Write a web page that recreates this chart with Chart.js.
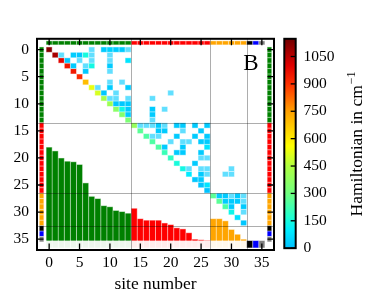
<!DOCTYPE html>
<html lang="en">
<head>
  <meta charset="UTF-8">
  <title>Hamiltonian</title>
  <script src="https://cdn.jsdelivr.net/npm/chart.js"></script>
  <style>
    body { margin: 0; background: #fff; }
    canvas { display: block; }
  </style>
</head>
<body>
  <canvas id="hamChart" width="374" height="301"></canvas>

  <script>
    const siteTicks = [0, 5, 10, 15, 20, 25, 30, 35];
    const energyTicks = [0, 150, 300, 450, 600, 750, 900, 1050];

    // site energies in cm^-1 (diagonal); sites 33-35 have no entry
    const siteEnergy = [1121, 1076, 991, 952, 946, 913, 692, 530, 504, 419, 406, 361, 348, 328,
                        387, 263, 244, 244, 244, 211, 192, 153, 140, 94, 16, 10, 6,
                        263, 263, 237, 133, 75, 16, null, null, null];

    // group of each site, used for the border strips and the bars
    const siteGroup = [0,0,0,0,0,0,0,0,0,0,0,0,0,0,
                       1,1,1,1,1,1,1,1,1,1,1,1,1,
                       2,2,2,2,2,2, 3, 4, 5];
    const groupColors = ['#008000', '#ff0000', '#ffa500', '#000000', '#0000ff', '#808080'];
    const groupEdges = [13.5, 26.5, 32.5];

    // couplings [row, col, value cm^-1]; negative ones are drawn lighter
    const couplings = [
      [0,7,-25],[0,9,25],[0,10,40],[0,11,25],[0,12,25],[0,13,-25],
      [1,2,-25],[1,4,30],[1,5,20],[1,6,150],[1,7,-25],[1,10,-25],
      [2,3,20],[2,5,-25],[2,7,-25],[2,10,-25],[2,13,80],
      [3,4,25],[3,6,-25],[3,7,140],[3,10,25],
      [4,6,20],[4,10,-25],
      [6,10,-25],[6,12,-25],
      [7,8,-25],[7,10,30],[7,13,25],
      [8,9,20],[8,11,-25],[8,20,-25],
      [9,10,-25],[9,11,-25],[9,13,-25],[9,17,-25],
      [10,11,20],[10,12,20],[10,13,25],
      [11,12,140],[11,13,25],[11,17,25],[11,19,-25],
      [12,13,25],[12,17,25],
      [13,17,-25],
      [14,15,-25],[14,16,-25],[14,17,-25],[14,18,25],[14,19,-25],[14,21,25],[14,22,25],[14,24,25],[14,26,25],
      [15,18,25],[15,19,25],[15,22,-25],[15,25,25],
      [16,17,-25],[16,18,-25],[16,21,25],[16,24,25],[16,26,25],
      [17,20,-25],[17,22,-25],[17,23,-25],[17,25,25],[17,26,25],
      [18,19,25],[18,22,25],[18,26,80],
      [19,21,25],[19,22,25],[19,25,25],
      [20,25,-25],[20,26,-25],
      [21,24,25],
      [22,23,-25],[22,25,-25],[22,26,-25],[22,30,-25],
      [23,25,25],[23,26,-25],[23,29,-25],[23,30,-25],
      [24,25,25],
      [25,26,80],
      [27,28,30],[27,29,25],[27,30,-25],[27,31,25],[27,32,-25],
      [28,29,25],[28,30,25],[28,31,25],[28,32,-25],
      [29,30,25],[29,32,25],
      [30,32,-25]
    ];

    // colour map of the colour bar
    const cmapValues = [0, 100, 170, 300, 450, 560, 750, 900, 1000, 1150];
    const cmapColors = ['#00bfff', '#00eeff', '#20ffd0', '#70ff80', '#b0ff40',
                        '#ffff00', '#ffa000', '#ff3000', '#e00000', '#700000'];
    const cbarMin = -10, cbarMax = 1147;

    const barBase = 35.25;   // bars start here (site units)
    const cmPerSite = 65;    // bar height scale

    const tickFont = { family: 'Liberation Serif', size: 15.5 };
    const titleFont = { family: 'Liberation Serif', size: 17.5 };

    function toRgb(hex) {
      const n = parseInt(hex.slice(1), 16);
      return [n >> 16 & 255, n >> 8 & 255, n & 255];
    }
    function rgbStr(c) { return 'rgb(' + c.map(Math.round).join(',') + ')'; }
    function lighten(c, t) { return c.map(v => v + (255 - v) * t); }

    function cmap(v) {
      if (v <= cmapValues[0]) return toRgb(cmapColors[0]);
      for (let i = 1; i < cmapValues.length; i++) {
        if (v <= cmapValues[i]) {
          const t = (v - cmapValues[i - 1]) / (cmapValues[i] - cmapValues[i - 1]);
          const a = toRgb(cmapColors[i - 1]), b = toRgb(cmapColors[i]);
          return a.map((x, k) => x + (b[k] - x) * t);
        }
      }
      return toRgb(cmapColors[cmapColors.length - 1]);
    }

    // one cell with a light edge, pixel box from scale values
    function cell(ctx, x, y, x0, x1, y0, y1, rgb) {
      const l = x.getPixelForValue(x0), r = x.getPixelForValue(x1);
      const t = Math.min(y.getPixelForValue(y0), y.getPixelForValue(y1));
      const b = Math.max(y.getPixelForValue(y0), y.getPixelForValue(y1));
      ctx.fillStyle = rgbStr(lighten(rgb, 0.5));
      ctx.fillRect(l, t, r - l, b - t);
      ctx.fillStyle = rgbStr(rgb);
      ctx.fillRect(l + 0.5, t + 0.5, r - l - 1, b - t - 1);
    }

    const matrixPlugin = {
      id: 'matrix',
      beforeDatasetsDraw(chart) {
        const { ctx, chartArea: a, scales } = chart;
        const x = scales.x, y = scales.y, yb = scales.yb;
        ctx.save();
        ctx.beginPath();
        ctx.rect(a.left, a.top, a.width, a.height);
        ctx.clip();

        // border strips
        siteGroup.forEach((g, i) => {
          const c = toRgb(groupColors[g]);
          cell(ctx, x, y, i - 0.5, i + 0.5, -1.625, -0.875, c);
          cell(ctx, x, y, -1.625, -0.875, i - 0.5, i + 0.5, c);
          cell(ctx, x, y, 35.875, 36.625, i - 0.5, i + 0.5, c);
          const bc = g >= 3 ? c : lighten(c, 0.93);
          cell(ctx, x, y, i - 0.5, i + 0.5, barBase, 36.625, bc);
        });

        // bars of the site energies (lower triangle)
        siteEnergy.forEach((e, i) => {
          if (e === null) return;
          const c = toRgb(groupColors[siteGroup[i]]);
          const l = x.getPixelForValue(i - 0.5), r = x.getPixelForValue(i + 0.5);
          const t = yb.getPixelForValue(e), b = yb.getPixelForValue(0);
          ctx.fillStyle = rgbStr(lighten(c, 0.5));
          ctx.fillRect(l, t, r - l, b - t);
          ctx.fillStyle = rgbStr(c);
          ctx.fillRect(l + 0.5, t + 0.5, r - l - 1, b - t - 0.5);
        });

        // diagonal
        siteEnergy.forEach((e, i) => {
          if (e === null) return;
          cell(ctx, x, y, i - 0.5, i + 0.5, i - 0.5, i + 0.5, cmap(e));
        });

        // couplings (upper triangle)
        couplings.forEach(([r, c, v]) => {
          let col = cmap(Math.abs(v));
          if (v < 0) col = lighten(col, 0.38);
          cell(ctx, x, y, c - 0.5, c + 0.5, r - 0.5, r + 0.5, col);
        });

        // group boundaries
        ctx.strokeStyle = 'rgba(0,0,0,0.32)';
        ctx.lineWidth = 1;
        groupEdges.forEach(v => {
          const px = Math.round(x.getPixelForValue(v)) + 0.5;
          const py = Math.round(y.getPixelForValue(v)) + 0.5;
          ctx.beginPath();
          ctx.moveTo(px, a.top); ctx.lineTo(px, a.bottom);
          ctx.moveTo(a.left, py); ctx.lineTo(a.right, py);
          ctx.stroke();
        });
        ctx.restore();
      },
      afterDraw(chart) {
        const { ctx, chartArea: a, scales } = chart;
        const x = scales.x, y = scales.y, yc = scales.yc;
        ctx.save();

        // ticks pointing inside, all four sides
        ctx.strokeStyle = '#000';
        ctx.lineWidth = 1.3;
        const tl = 6.5;
        siteTicks.forEach(v => {
          const px = x.getPixelForValue(v), py = y.getPixelForValue(v);
          ctx.beginPath();
          ctx.moveTo(px, a.bottom); ctx.lineTo(px, a.bottom - tl);
          ctx.moveTo(px, a.top); ctx.lineTo(px, a.top + tl);
          ctx.moveTo(a.left, py); ctx.lineTo(a.left + tl, py);
          ctx.moveTo(a.right, py); ctx.lineTo(a.right - tl, py);
          ctx.stroke();
        });

        // frame
        ctx.lineWidth = 2;
        ctx.strokeRect(a.left, a.top, a.width, a.height);

        // colour bar
        const cbL = a.right + 10.3, cbW = 11.4;
        const cbTop = yc.getPixelForValue(cbarMax), cbBot = yc.getPixelForValue(0);
        const grad = ctx.createLinearGradient(0, cbBot, 0, cbTop);
        cmapValues.forEach((v, i) => {
          grad.addColorStop(Math.min(1, v / cbarMax), cmapColors[i]);
        });
        ctx.fillStyle = grad;
        ctx.fillRect(cbL, cbTop, cbW, cbBot - cbTop);
        ctx.lineWidth = 1.3;
        energyTicks.forEach(v => {
          const py = yc.getPixelForValue(v);
          ctx.beginPath();
          ctx.moveTo(cbL + cbW, py); ctx.lineTo(cbL + cbW - 5, py);
          ctx.stroke();
        });
        ctx.lineWidth = 2;
        ctx.strokeRect(cbL, cbTop, cbW, cbBot - cbTop);

        // colour bar title, reading upwards
        const main = 'Hamiltonian in cm', sup = '\u22121';
        ctx.fillStyle = '#000';
        ctx.translate(a.right + 88, (a.top + a.bottom) / 2);
        ctx.rotate(-Math.PI / 2);
        ctx.font = titleFont.size + 'px "' + titleFont.family + '"';
        const wMain = ctx.measureText(main).width;
        ctx.font = '12px "' + titleFont.family + '"';
        const wSup = ctx.measureText(sup).width;
        const start = -(wMain + wSup) / 2;
        ctx.textAlign = 'left';
        ctx.textBaseline = 'alphabetic';
        ctx.font = titleFont.size + 'px "' + titleFont.family + '"';
        ctx.fillText(main, start, 0);
        ctx.font = '12px "' + titleFont.family + '"';
        ctx.fillText(sup, start + wMain + 1, -7);
        ctx.setTransform(1, 0, 0, 1, 0, 0);

        // panel letter
        ctx.font = '23px "Liberation Serif"';
        ctx.textAlign = 'center';
        ctx.textBaseline = 'alphabetic';
        ctx.fillText('B', x.getPixelForValue(33.2), y.getPixelForValue(3.8));
        ctx.restore();
      }
    };

    window.addEventListener('DOMContentLoaded', () => {
      const ctx = document.getElementById('hamChart').getContext('2d');
      new Chart(ctx, {
        type: 'scatter',
        data: { datasets: [{ data: [], xAxisID: 'x', yAxisID: 'y' }] },
        options: {
          responsive: false,
          animation: false,
          layout: { padding: { top: 13, left: 0, right: 0, bottom: 0 } },
          plugins: { legend: { display: false }, tooltip: { enabled: false } },
          scales: {
            x: {
              type: 'linear', position: 'bottom', min: -2, max: 37,
              grid: { display: false, drawTicks: false },
              border: { display: false },
              afterBuildTicks: s => { s.ticks = siteTicks.map(v => ({ value: v })); },
              afterFit: s => { s.height = 51; },
              ticks: { font: tickFont, color: '#000', padding: 4, maxRotation: 0, autoSkip: false },
              title: { display: true, text: 'site number', font: titleFont, color: '#000', padding: { top: 0, bottom: 6 } }
            },
            y: {
              type: 'linear', position: 'left', min: -2, max: 37, reverse: true,
              grid: { display: false, drawTicks: false },
              border: { display: false },
              afterBuildTicks: s => { s.ticks = siteTicks.map(v => ({ value: v })); },
              afterFit: s => { s.width = 37; },
              ticks: { font: tickFont, color: '#000', padding: 8, autoSkip: false }
            },
            yb: {
              type: 'linear', display: false,
              min: (barBase - 37) * cmPerSite, max: (barBase + 2) * cmPerSite
            },
            yc: {
              type: 'linear', position: 'right', min: cbarMin, max: cbarMax,
              grid: { display: false, drawTicks: false },
              border: { display: false },
              afterBuildTicks: s => { s.ticks = energyTicks.map(v => ({ value: v })); },
              afterFit: s => { s.width = 100; },
              ticks: { font: tickFont, color: '#000', padding: 29.5, autoSkip: false, callback: v => String(v) }
            }
          }
        },
        plugins: [matrixPlugin]
      });
    });
  </script>
</body>
</html>
